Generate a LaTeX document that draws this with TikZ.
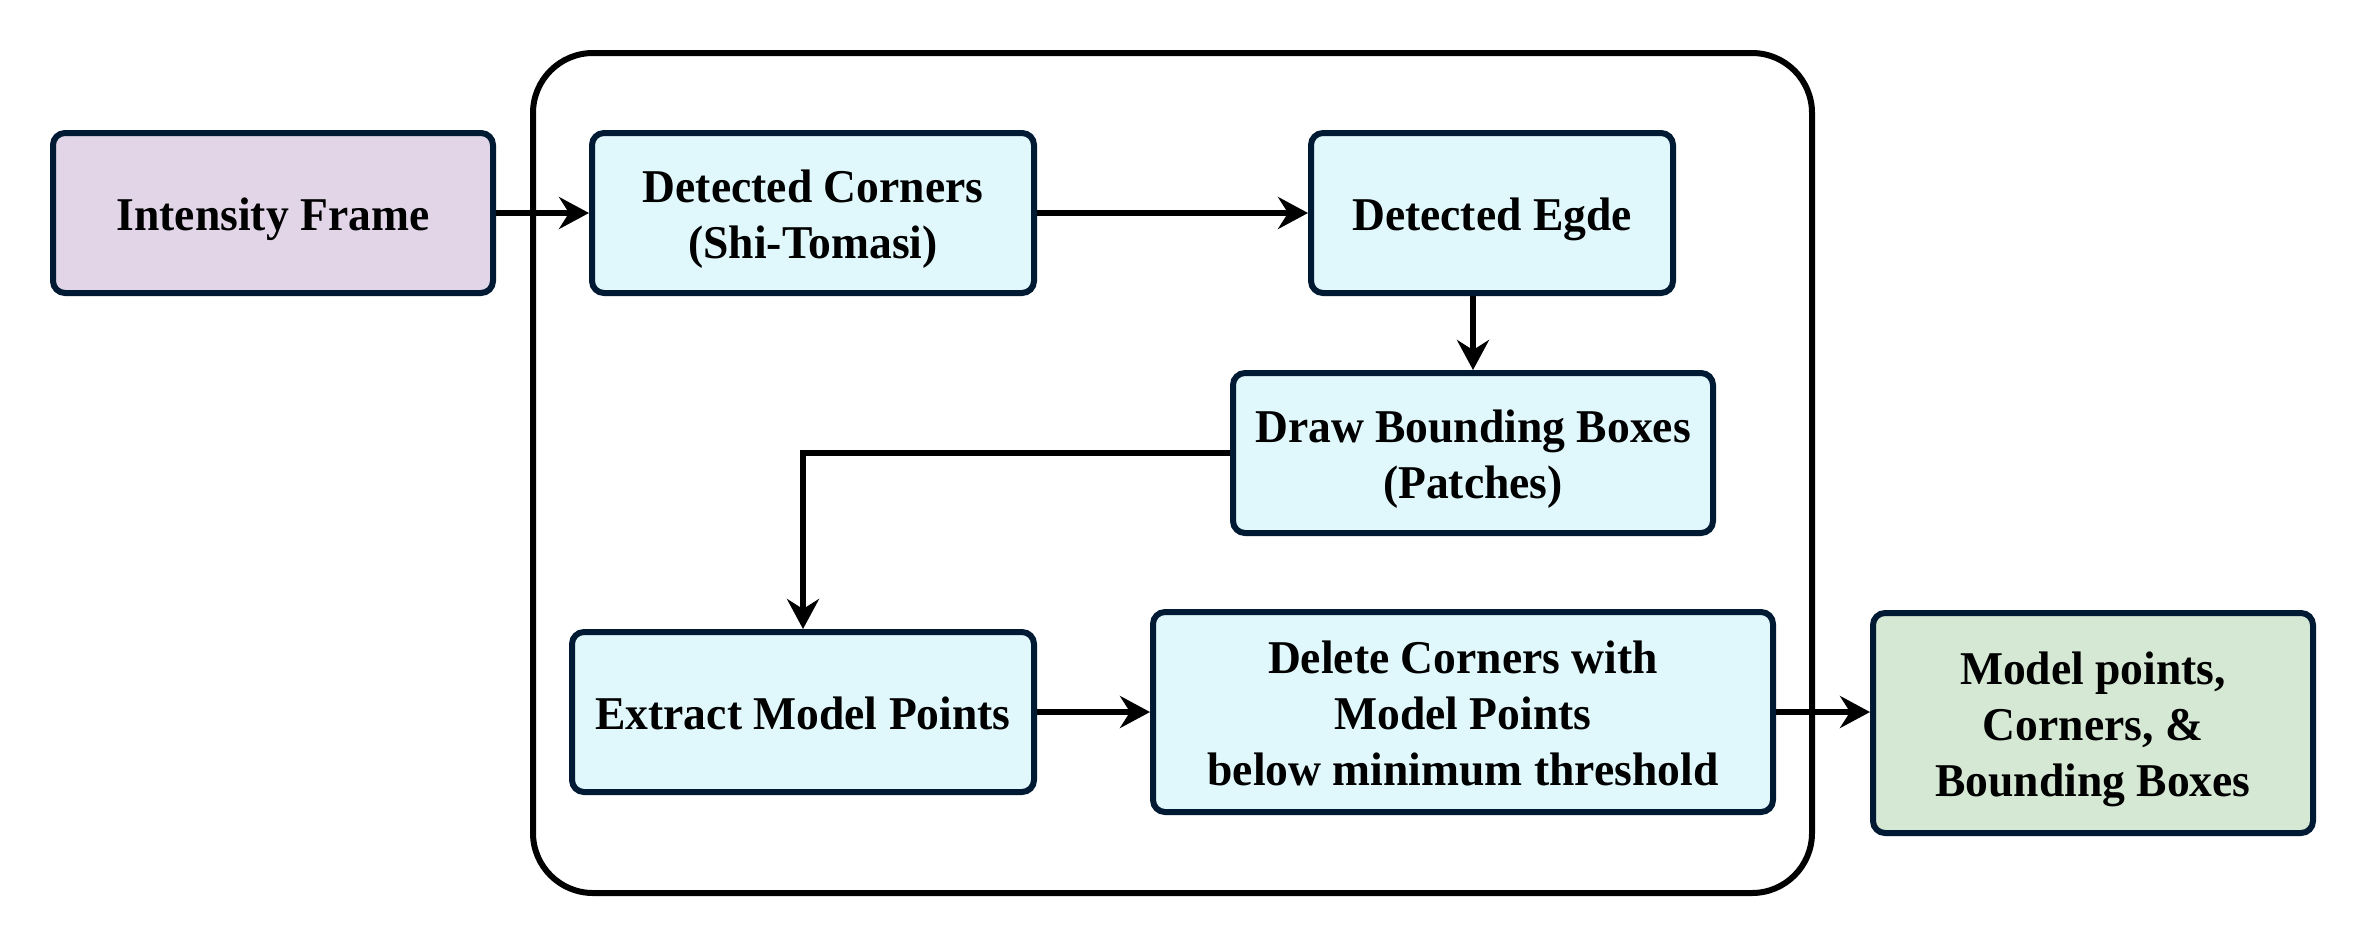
\documentclass[tikz,border=0pt]{standalone}
\usepackage{fontspec}
\setmainfont{Liberation Serif}[FakeStretch=0.97]
\usetikzlibrary{arrows.meta}
\definecolor{edgec}{HTML}{001A33}
\definecolor{purplef}{HTML}{E1D5E7}
\definecolor{cyanf}{HTML}{E0F8FC}
\definecolor{greenf}{HTML}{D5E8D4}
\newcommand{\lnstrut}{\rule[-10pt]{0pt}{55pt}}
\tikzset{
  box/.style={draw=edgec, line width=6pt, rounded corners=12pt, inner sep=0pt, align=center,
    font=\fontsize{47}{56}\selectfont\bfseries, text=black},
  arr/.style={draw=black, line width=5.5pt, -{Stealth[length=30pt,width=32pt,inset=10pt]}},
}
\begin{document}
\begin{tikzpicture}[x=1pt,y=-1pt]
\useasboundingbox (0,0) rectangle (2366,946);
\draw[black, line width=6pt, rounded corners=60pt] (533,53) rectangle (1812,893);
\node[box, fill=purplef, minimum width=440pt, minimum height=160pt] (intensity) at (273,213) {\lnstrut Intensity Frame};
\node[box, fill=cyanf, minimum width=442pt, minimum height=160pt] (corners) at (813,213) {\lnstrut Detected Corners\\\lnstrut (Shi-Tomasi)};
\node[box, fill=cyanf, minimum width=362pt, minimum height=160pt] (egde) at (1492,213) {\lnstrut Detected Egde};
\node[box, fill=cyanf, minimum width=480pt, minimum height=160pt] (drawbb) at (1473,453) {\lnstrut Draw Bounding Boxes\\\lnstrut (Patches)};
\node[box, fill=cyanf, minimum width=462pt, minimum height=160pt] (extract) at (803,712) {\lnstrut Extract Model Points};
\node[box, fill=cyanf, minimum width=620pt, minimum height=200pt] (delete) at (1463,712) {\lnstrut Delete Corners with\\\lnstrut Model Points\\\lnstrut below minimum threshold};
\node[box, fill=greenf, minimum width=440pt, minimum height=220pt] (model) at (2093,723) {\lnstrut Model points,\\\lnstrut Corners, \&\\\lnstrut Bounding Boxes};
\draw[arr] (intensity.east) -- (corners.west);
\draw[arr] (corners.east) -- (egde.west);
\draw[arr] (drawbb.north |- egde.south) -- (drawbb.north);
\draw[arr] (drawbb.west) -| (extract.north);
\draw[arr] (extract.east) -- (extract.east -| delete.west);
\draw[arr] (delete.east) -- (delete.east -| model.west);
\end{tikzpicture}
\end{document}
